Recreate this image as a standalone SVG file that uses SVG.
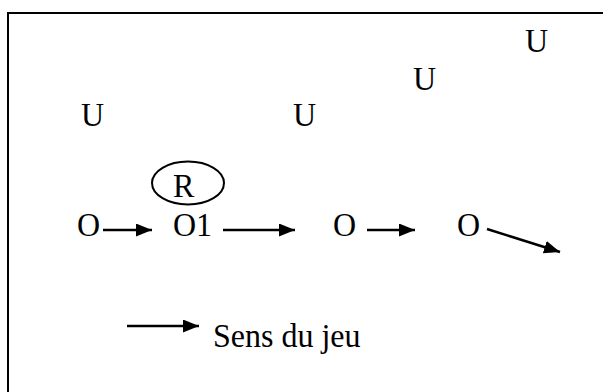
<svg xmlns="http://www.w3.org/2000/svg" width="603" height="392" viewBox="0 0 603 392">
  <style>
    .t { font-family: "Liberation Serif", "Times New Roman", serif; font-size: 32px; fill: #000; }
    .c { stroke: #000; stroke-width: 2.5; fill: none; marker-end: url(#ah); }
  </style>
  <defs>
    <marker id="ah" markerUnits="userSpaceOnUse" markerWidth="17" markerHeight="14" refX="16" refY="6.5" orient="auto">
      <path d="M0,0 L16,6.5 L0,13 Z" fill="#000"/>
    </marker>
  </defs>
  <rect x="8" y="13" width="700" height="500" fill="#fff" stroke="#000" stroke-width="2"/>
  <g id="u1"><text class="t" transform="translate(81,126) scale(1,1.08)">U</text></g>
  <g id="u2"><text class="t" transform="translate(293,126) scale(1,1.08)">U</text></g>
  <g id="u3"><text class="t" transform="translate(413,90) scale(1,1.08)">U</text></g>
  <g id="u4"><text class="t" transform="translate(525,52) scale(1,1.08)">U</text></g>
  <g id="r"><ellipse cx="188" cy="183" rx="36" ry="21.5" fill="none" stroke="#000" stroke-width="2"/><text class="t" transform="translate(173,197) scale(1,1.08)">R</text></g>
  <g id="o0"><text class="t" transform="translate(77,236) scale(1,1.08)">O</text></g>
  <g id="o1"><text class="t" transform="translate(173,236) scale(1,1.08)">O1</text></g>
  <g id="o2"><text class="t" transform="translate(333,236) scale(1,1.08)">O</text></g>
  <g id="o3"><text class="t" transform="translate(457,236) scale(1,1.08)">O</text></g>
  <g id="legend"><text class="t" transform="translate(213,347) scale(1,1.08)">Sens du jeu</text></g>
  <g id="connectors">
    <line class="c" x1="103" y1="230" x2="152" y2="230"/>
    <line class="c" x1="223" y1="230" x2="295" y2="230"/>
    <line class="c" x1="367" y1="230" x2="415" y2="230"/>
    <line class="c" x1="487" y1="229" x2="560" y2="252"/>
    <line class="c" x1="127" y1="326" x2="199" y2="326"/>
  </g>
</svg>
